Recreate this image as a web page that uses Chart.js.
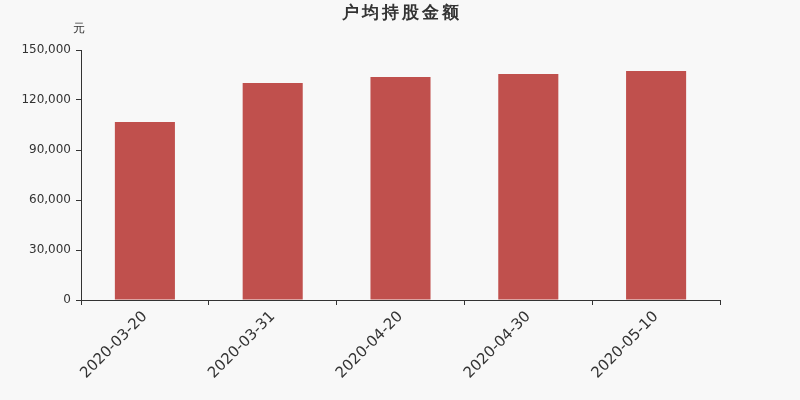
<!DOCTYPE html>
<html>
<head>
<meta charset="utf-8">
<script src="https://cdn.jsdelivr.net/npm/chart.js@4"></script>
<style>
  html, body { margin: 0; padding: 0; background: #f8f8f8; }
  #wrap { width: 800px; height: 400px; }
</style>
</head>
<body>
<div id="wrap"><canvas id="barChart" width="800" height="400"></canvas></div>
<script>
const dates = ["2020-03-20", "2020-03-31", "2020-04-20", "2020-04-30", "2020-05-10"];
const avgHolding = [106800, 130200, 133800, 135600, 137400];
const yTicks = [0, 30000, 60000, 90000, 120000, 150000];
const titleText = '户均持股金额';

// title and unit label drawn on top of the canvas
const titlePlugin = {
    id: 'titleText',
    afterDraw(chart) {
        const ctx = chart.ctx;
        ctx.save();
        ctx.fillStyle = '#333';
        ctx.textAlign = 'center';
        ctx.textBaseline = 'middle';
        ctx.font = 'bold 17px "DejaVu Sans", sans-serif';
        // title chars are spaced out a bit
        const chars = Array.from(titleText);
        const step = 20;
        const start = 400 - step * (chars.length - 1) / 2;
        chars.forEach((c, i) => ctx.fillText(c, start + i * step, 14));
        ctx.font = '12px "DejaVu Sans", sans-serif';
        ctx.fillText('元', 79, 29);
        ctx.restore();
    }
};

const ctx = document.getElementById('barChart').getContext('2d');
new Chart(ctx, {
    type: 'bar',
    data: {
        labels: dates,
        datasets: [{
            data: avgHolding,
            backgroundColor: '#c0504d',
            barPercentage: 0.47,
            categoryPercentage: 1
        }]
    },
    options: {
        responsive: false,
        animation: false,
        layout: { padding: { left: 0, right: 80, top: 50, bottom: 0 } },
        plugins: {
            legend: { display: false },
            tooltip: { enabled: false }
        },
        scales: {
            x: {
                grid: { display: true, drawOnChartArea: false, offset: true, color: '#333', tickLength: 5 },
                border: { color: '#333' },
                ticks: {
                    color: '#333',
                    font: { family: '"DejaVu Sans", sans-serif', size: 15 },
                    maxRotation: 45,
                    minRotation: 45,
                    padding: 3
                },
                afterFit(axis) { axis.height = 100; }
            },
            y: {
                min: 0,
                max: 150000,
                afterBuildTicks(axis) { axis.ticks = yTicks.map(v => ({ value: v })); },
                grid: { display: true, drawOnChartArea: false, color: '#333', tickLength: 5 },
                border: { color: '#333' },
                ticks: {
                    color: '#333',
                    font: { family: '"DejaVu Sans", sans-serif', size: 12 },
                    padding: 5,
                    callback: v => v.toLocaleString('en-US')
                },
                afterFit(axis) { axis.width = 81; }
            }
        }
    },
    plugins: [titlePlugin]
});
</script>
</body>
</html>
